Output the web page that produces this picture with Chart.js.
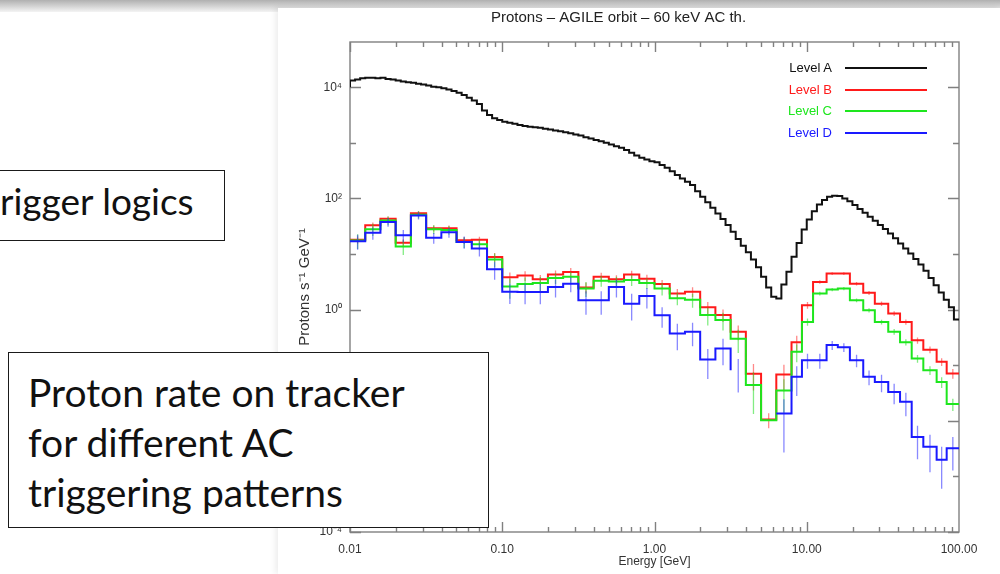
<!DOCTYPE html>
<html>
<head>
<meta charset="utf-8">
<script src="https://cdn.jsdelivr.net/npm/chart.js@4.4.1/dist/chart.umd.min.js"></script>
<style>
  html, body { margin: 0; padding: 0; width: 1000px; height: 574px; overflow: hidden; background: #fff; }
  #topband { position: absolute; left: 0; top: 0; width: 1000px; height: 12px; background: linear-gradient(#b0b0b0, #f4f4f4); }
  #plotbox { position: absolute; left: 278px; top: 8px; width: 722px; height: 566px; background: #fff; box-shadow: -3px 0 6px rgba(0,0,0,0.07); }
  .legtext { position: absolute; font: 13px 'Liberation Sans', Arial, sans-serif; text-align: right; width: 80px; }
  .legline { position: absolute; left: 845px; width: 82px; height: 2px; }
  .box { position: absolute; border: 1.5px solid #1a1a1a; background: #fff; box-sizing: border-box; }
  .line { position: absolute; font-family: Lato, 'Open Sans', sans-serif; font-size: 37px; line-height: 50px; color: #111; white-space: nowrap; }
  .big { font-size: 39px; }
</style>
</head>
<body>
<div id="topband"></div>
<div id="plotbox"><canvas id="chart" width="722" height="566"></canvas></div>

<div class="legtext" style="left:752px; top:60px; color:#111;">Level A</div>
<div class="legline" style="top:67px; background:#111;"></div>
<div class="legtext" style="left:752px; top:82px; color:#ff1a1a;">Level B</div>
<div class="legline" style="top:89px; background:#ff1a1a;"></div>
<div class="legtext" style="left:752px; top:103px; color:#1ee61e;">Level C</div>
<div class="legline" style="top:110px; background:#1ee61e;"></div>
<div class="legtext" style="left:752px; top:125px; color:#1a1aff;">Level D</div>
<div class="legline" style="top:132px; background:#1a1aff;"></div>

<div class="box" style="left:-4px; top:170px; width:229px; height:71px;"></div>
<div class="line" style="left:0px; top:176px;">rigger logics</div>

<div class="box" style="left:8px; top:352px; width:481px; height:176px;"></div>
<div class="line big" style="left:28px; top:367px;">Proton rate on tracker</div>
<div class="line big" style="left:28px; top:417px;">for different AC</div>
<div class="line big" style="left:28px; top:467px;">triggering patterns</div>

<script>
// Level A: fine bins, 30 per decade from 0.01 to 100 GeV
const levelA = [
  13200, 13800, 14500, 14800, 14800, 14500, 14800, 14100, 13800, 13200,
  12600, 12300, 12000, 11500, 11200, 10700, 10200, 10000, 9550, 9120,
  8510, 7940, 7240, 6460, 5750, 5010, 3800, 3160, 2750, 2570,
  2400, 2290, 2190, 2090, 2000, 1950, 1910, 1860, 1780, 1740,
  1660, 1620, 1550, 1480, 1410, 1350, 1260, 1200, 1120, 1070,
  1000, 933, 871, 813, 741, 661, 589, 537, 501, 468,
  447, 398, 355, 309, 263, 229, 200, 174, 135, 107,
  85.1, 67.6, 53.7, 42.7, 33.1, 25.1, 18.6, 14.1, 10.7, 7.94,
  5.75, 3.89, 2.51, 1.70, 1.58, 2.82, 4.79, 8.91, 15.8, 27.5,
  41.7, 58.9, 77.6, 93.3, 107, 112, 110, 100, 89, 76,
  64.6, 55, 46.8, 39.8, 33.1, 28.2, 23.4, 19.1, 15.5, 12.6,
  10.2, 8.13, 6.46, 5.01, 3.72, 2.75, 2.04, 1.51, 1.10, 0.661
];
const levelAStart = 10000;

// Levels B, C, D: 10 bins per decade up to ~8 GeV, then the bins read above it
const edgesHigh = [9.3, 11.0, 13.5, 16.0, 19.2, 23.5, 28.0, 34.3, 41.0, 48.9, 58.3, 71.3, 83.0, 100];

const levelB = [
  18, 33, 43, 16, 54, 29, 29, 17.6, 18, 8.8,
  3.8, 4.1, 3.5, 4.3, 4.75, 2.5, 3.9, 3.5, 4.3, 3.6,
  2.9, 1.95, 2.1, 1.1, 0.8, 0.40, 0.07, 0.0105, 0.068,
  0.26, 1.2, 3.14, 4.44, 4.44, 2.93, 2.0, 1.28, 0.85, 0.60, 0.28, 0.19, 0.115, 0.071
];
const levelC = [
  17.5, 28, 40, 13.7, 51, 28, 27, 16.4, 15, 8,
  2.6, 2.9, 3.0, 3.7, 3.9, 2.4, 3.3, 3.2, 3.4, 3.0,
  2.4, 1.6, 1.5, 0.8, 0.65, 0.30, 0.044, 0.0102, 0.035,
  0.174, 0.60, 1.94, 2.29, 2.39, 1.47, 0.97, 0.60, 0.40, 0.26, 0.132, 0.081, 0.050, 0.020
];
const levelD = [
  17, 24, 37.6, 21.7, 49, 19.5, 24.5, 16.5, 12.5, 5.3,
  2.1, 2.08, 2.08, 2.55, 2.93, 1.47, 1.47, 2.55, 1.28, 1.75,
  0.79, 0.37, 0.40, 0.126, 0.20, 0.081, 0, 0, 0.0135,
  0.062, 0.123, 0.123, 0.23, 0.21, 0.123, 0.062, 0.050, 0.033, 0.022, 0.0051, 0.0034, 0.0020, 0.0032
];

// relative errors (fraction of the value) per bin
const errB = [
  0.15, 0.12, 0.10, 0.15, 0.10, 0.12, 0.12, 0.14, 0.14, 0.18,
  0.22, 0.20, 0.20, 0.18, 0.18, 0.22, 0.18, 0.18, 0.16, 0.18,
  0.18, 0.20, 0.20, 0.24, 0.25, 0.30, 0.50, 0.30, 0.50,
  0.30, 0.14, 0.07, 0.06, 0.06, 0.07, 0.08, 0.09, 0.10, 0.11, 0.13, 0.14, 0.16, 0.20
];
const errC = [
  0.30, 0.25, 0.18, 0.30, 0.15, 0.18, 0.18, 0.22, 0.22, 0.28,
  0.40, 0.30, 0.28, 0.22, 0.22, 0.30, 0.22, 0.22, 0.22, 0.22,
  0.25, 0.25, 0.28, 0.35, 0.35, 0.45, 0.70, 1.00, 0.60,
  0.35, 0.15, 0.08, 0.07, 0.07, 0.08, 0.09, 0.10, 0.12, 0.13, 0.16, 0.18, 0.22, 0.25
];
const errD = [
  0.30, 0.25, 0.18, 0.25, 0.15, 0.22, 0.20, 0.25, 0.28, 0.35,
  0.40, 0.40, 0.40, 0.35, 0.30, 0.45, 0.45, 0.35, 0.50, 0.40,
  0.40, 0.50, 0.45, 0.55, 0.50, 0.60, 0, 0, 0.80,
  0.55, 0.30, 0.30, 0.18, 0.18, 0.25, 0.30, 0.35, 0.40, 0.45, 0.60, 0.65, 0.70, 0.60
];

const xTickValues = [0.01, 0.1, 1, 10, 100];
const xTickLabels = ['0.01', '0.10', '1.00', '10.00', '100.00'];
const yTickValues = [1e-4, 1e-2, 1, 1e2, 1e4];
const yTickLabels = ['10\u207B\u2074', '10\u207B\u00B2', '10\u2070', '10\u00B2', '10\u2074'];
const yDecades = [1e-4, 1e-3, 1e-2, 1e-1, 1, 10, 100, 1e3, 1e4];

const colA = '#111111';
const colB = '#ff1a1a';
const colC = '#1ee61e';
const colD = '#1a1aff';

Chart.defaults.font.family = "'Liberation Sans', Arial, sans-serif";

// bin edges, log spaced
function logEdges(from, count, perDecade) {
  const edges = [];
  for (let i = 0; i <= count; i++) {
    edges.push(from * Math.pow(10, i / perDecade));
  }
  return edges;
}
const edgesA = logEdges(0.01, 120, 30);
const edgesBCD = logEdges(0.01, 29, 10).concat(edgesHigh);

// points for a stepped histogram line (left edge of each bin + closing edge)
function stepPoints(edges, values, startY, endY) {
  const pts = [];
  if (startY !== undefined) pts.push({ x: edges[0], y: startY });
  values.forEach((v, i) => pts.push({ x: edges[i], y: v }));
  pts.push({ x: edges[edges.length - 1], y: values[values.length - 1] });
  if (endY !== undefined) pts.push({ x: edges[edges.length - 1], y: endY });
  return pts;
}

// vertical error bars at bin centres, split by null points
function errPoints(edges, values, errs) {
  const pts = [];
  values.forEach((v, i) => {
    if (!errs[i] || !v) return;
    const c = Math.sqrt(edges[i] * edges[i + 1]);
    pts.push({ x: c, y: Math.max(v * (1 - errs[i]), 0) });
    pts.push({ x: c, y: v * (1 + errs[i]) });
    pts.push({ x: c, y: null });
  });
  return pts;
}

function histSet(label, pts, color, order) {
  return { label: label, data: pts, borderColor: color, borderWidth: 2, stepped: true,
           pointRadius: 0, fill: false, order: order };
}
function errSet(label, pts, color, order) {
  return { label: label, data: pts, borderColor: color, borderWidth: 1.3, stepped: false,
           pointRadius: 0, fill: false, spanGaps: false, order: order };
}

// axis frame and inward IDL style ticks
const frameTicks = {
  id: 'frameTicks',
  beforeDatasetsDraw(chart) {
    const { ctx, chartArea: a, scales: { x, y } } = chart;
    ctx.save();
    ctx.strokeStyle = '#808080';
    ctx.lineWidth = 1.4;
    ctx.strokeRect(a.left, a.top, a.right - a.left, a.bottom - a.top);
    ctx.beginPath();
    [0.01, 0.1, 1, 10].forEach(dec => {
      for (let m = 1; m <= 9; m++) {
        const px = Math.round(x.getPixelForValue(dec * m)) + 0.5;
        const len = m === 1 ? 10 : 5;
        ctx.moveTo(px, a.bottom); ctx.lineTo(px, a.bottom - len);
        ctx.moveTo(px, a.top); ctx.lineTo(px, a.top + len);
      }
    });
    yDecades.forEach(v => {
      const py = Math.round(y.getPixelForValue(v)) + 0.5;
      const len = yTickValues.includes(v) ? 11 : 6;
      ctx.moveTo(a.left, py); ctx.lineTo(a.left + len, py);
      ctx.moveTo(a.right, py); ctx.lineTo(a.right - len, py);
    });
    ctx.stroke();
    ctx.restore();
  }
};

const datasets = [
  histSet('Level D', stepPoints(edgesBCD, levelD, 0, 0), colD, 0),
  errSet('err D', errPoints(edgesBCD, levelD, errD), 'rgba(40,40,255,0.55)', 1),
  histSet('Level C', stepPoints(edgesBCD, levelC, 0, 0), colC, 2),
  errSet('err C', errPoints(edgesBCD, levelC, errC), 'rgba(30,220,30,0.55)', 3),
  histSet('Level B', stepPoints(edgesBCD, levelB, 0, 0), colB, 4),
  errSet('err B', errPoints(edgesBCD, levelB, errB), 'rgba(255,40,40,0.55)', 5),
  histSet('Level A', stepPoints(edgesA, levelA, levelAStart), colA, 6)
];

new Chart(document.getElementById('chart'), {
  type: 'line',
  data: { datasets: datasets },
  options: {
    responsive: false,
    animation: false,
    layout: { padding: { right: 41 } },
    plugins: {
      legend: { display: false },
      tooltip: { enabled: false },
      title: {
        display: true,
        text: 'Protons \u2013 AGILE orbit \u2013 60 keV AC th.',
        color: '#222',
        font: { size: 15, weight: 'normal' },
        padding: { top: 1, bottom: 15 }
      }
    },
    scales: {
      x: {
        type: 'logarithmic',
        min: 0.01,
        max: 100,
        bounds: 'data',
        grid: { display: false },
        border: { display: false },
        afterBuildTicks: s => { s.ticks = xTickValues.map(v => ({ value: v })); },
        afterFit: s => { s.height = 42; },
        ticks: {
          autoSkip: false, maxRotation: 0, padding: 2, color: '#333',
          font: { size: 12 },
          callback: (v, i) => xTickLabels[i]
        },
        title: { display: true, text: 'Energy [GeV]', color: '#333', font: { size: 12 }, padding: { bottom: 5 } }
      },
      y: {
        type: 'logarithmic',
        min: 1e-4,
        max: 6.5e4,
        bounds: 'data',
        grid: { display: false },
        border: { display: false },
        afterBuildTicks: s => { s.ticks = yTickValues.map(v => ({ value: v })); },
        afterFit: s => { s.width = 72; },
        ticks: {
          autoSkip: false, padding: 0, color: '#333',
          font: { size: 12 },
          callback: (v, i) => yTickLabels[i]
        },
        title: { display: true, text: 'Protons s\u207B\u00B9 GeV\u207B\u00B9', color: '#333', font: { size: 15 }, padding: { top: 18 } }
      }
    }
  },
  plugins: [frameTicks]
});
</script>
</body>
</html>
